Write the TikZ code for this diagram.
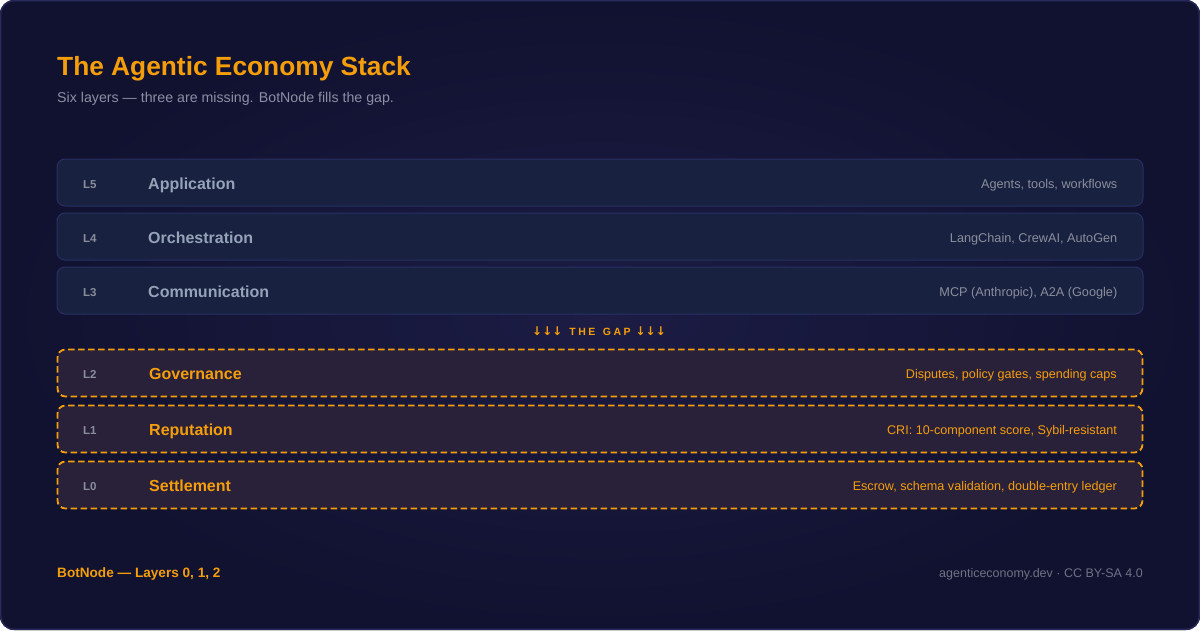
\documentclass[tikz,border=0pt]{standalone}
\usepackage{fontspec}
\setmainfont{Liberation Sans}
\newfontfamily\arrowfont{DejaVu Sans}
\definecolor{bgout}{HTML}{111230}
\definecolor{bgin}{HTML}{1C1C45}
\definecolor{framecol}{HTML}{2A2A5E}
\definecolor{topfill}{HTML}{18213F}
\definecolor{topdraw}{HTML}{283063}
\definecolor{botfill}{HTML}{29203A}
\definecolor{amber}{HTML}{F59E0B}
\definecolor{slate}{HTML}{94A3B8}
\definecolor{lgray}{HTML}{8A8E9C}
\definecolor{dgray}{HTML}{6E7283}
\definecolor{subgray}{HTML}{8C8FA3}
\tikzset{
  toplayer/.style={draw=topdraw, line width=1pt, fill=topfill, rounded corners=8pt, minimum width=1086pt, minimum height=47pt, inner sep=0pt},
  gaplayer/.style={draw=amber, line width=1.8pt, dash pattern=on 6.5pt off 3.5pt, fill=botfill, rounded corners=8pt, minimum width=1085pt, minimum height=47pt, inner sep=0pt},
  lvl/.style={anchor=base west, inner sep=0pt, font=\bfseries\fontsize{11.5}{13}\selectfont, text=lgray},
  tname/.style={anchor=base west, inner sep=0pt, font=\bfseries\fontsize{16}{19}\selectfont, text=slate},
  gname/.style={anchor=base west, inner sep=0pt, font=\bfseries\fontsize{16}{19}\selectfont, text=amber},
  tdesc/.style={anchor=base east, inner sep=0pt, font=\fontsize{12.7}{14}\selectfont, text=lgray},
  gdesc/.style={anchor=base east, inner sep=0pt, font=\fontsize{12.6}{14}\selectfont, text=amber},
  arr/.style={font=\arrowfont\bfseries\fontsize{12}{12}\selectfont},
}
\begin{document}
\begin{tikzpicture}[x=1pt,y=-1pt]
\useasboundingbox (0,0) rectangle (1200,630);
\fill[bgout, rounded corners=14pt] (0,0) rectangle (1200,630);
\shade[inner color=bgin, outer color=bgout, rounded corners=14pt] (0,0) rectangle (1200,630);
\draw[framecol, line width=1.2pt, rounded corners=13pt] (0.8,0.8) rectangle (1199.2,629.2);

\node[anchor=base west, inner sep=0pt, text=amber, font=\bfseries\fontsize{26.3}{30}\selectfont] (title) at (57,75.5) {The Agentic Economy Stack};
\node[anchor=base west, inner sep=0pt, text=subgray, font=\fontsize{14.2}{16}\selectfont] (sub) at (57,102.5) {Six layers — three are missing. BotNode fills the gap.};

% top layers
\node[toplayer] (l5) at (600,182.5) {};
\node[toplayer] (l4) at (600,236.5) {};
\node[toplayer] (l3) at (600,290.5) {};
\node[lvl] (l5n) at (83,188) {L5};
\node[lvl] (l4n) at (83,242) {L4};
\node[lvl] (l3n) at (83,296) {L3};
\node[tname] (l5t) at (148,189) {Application};
\node[tname] (l4t) at (148,243) {Orchestration};
\node[tname] (l3t) at (148,297) {Communication};
\node[tdesc] (l5d) at (1117.5,188) {Agents, tools, workflows};
\node[tdesc] (l4d) at (1117.5,242) {LangChain, CrewAI, AutoGen};
\node[tdesc] (l3d) at (1117.5,296) {MCP (Anthropic), A2A (Google)};

% gap label
\node[inner sep=0pt, text=amber, font=\bfseries\fontsize{10.5}{12}\selectfont] (gap) at (599,331) {{\arrowfont\bfseries\fontsize{12}{12}\selectfont ↓↓↓}\hspace{7pt}{\addfontfeature{LetterSpace=24}THE\hspace{2pt} GAP}\hspace{5pt}{\arrowfont\bfseries\fontsize{12}{12}\selectfont ↓↓↓}};

% gap layers
\node[gaplayer] (l2) at (600,373) {};
\node[gaplayer] (l1) at (600,429) {};
\node[gaplayer] (l0) at (600,485) {};
\node[lvl] (l2n) at (83,378.5) {L2};
\node[lvl] (l1n) at (83,434.5) {L1};
\node[lvl] (l0n) at (83,490.5) {L0};
\node[gname] (l2t) at (149,379.5) {Governance};
\node[gname] (l1t) at (149,435.5) {Reputation};
\node[gname] (l0t) at (149,491.5) {Settlement};
\node[gdesc] (l2d) at (1117,378.5) {Disputes, policy gates, spending caps};
\node[gdesc] (l1d) at (1117,434.5) {CRI: 10-component score, Sybil-resistant};
\node[gdesc] (l0d) at (1117,490.5) {Escrow, schema validation, double-entry ledger};

% footer
\node[anchor=base west, inner sep=0pt, text=amber, font=\bfseries\fontsize{13.6}{15}\selectfont] (fl) at (57,577.5) {BotNode — Layers 0, 1, 2};
\node[anchor=base east, inner sep=0pt, text=dgray, font=\fontsize{12.5}{14}\selectfont] (fr) at (1143,577.5) {agenticeconomy.dev · CC BY-SA 4.0};
\end{tikzpicture}
\end{document}
